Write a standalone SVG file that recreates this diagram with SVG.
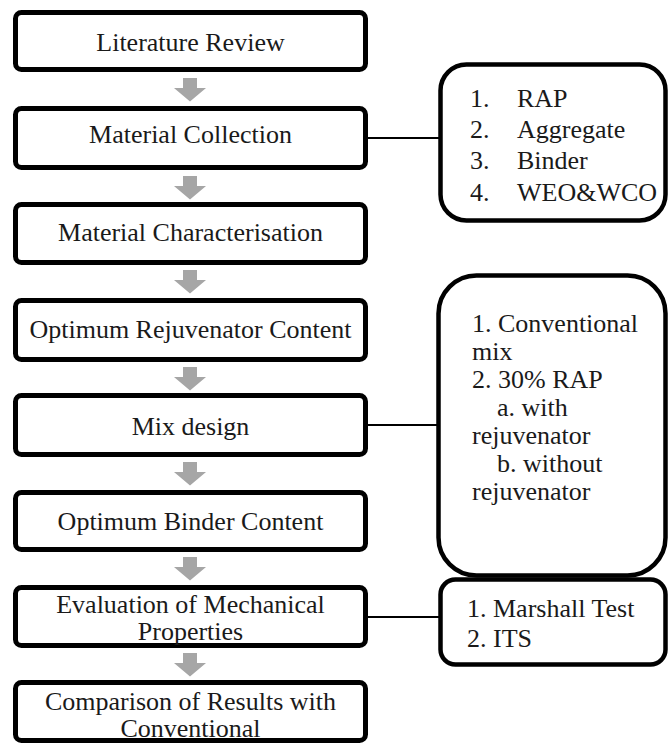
<svg xmlns="http://www.w3.org/2000/svg" width="670" height="744" viewBox="0 0 670 744">
<style>
.box{fill:#fff;stroke:#000;stroke-width:5}
.rbox{fill:#fff;stroke:#000;stroke-width:4.5}
.t{font-family:"Liberation Serif",serif;font-size:26px;fill:#1a1a1a}
.c{text-anchor:middle}
.arr{fill:#a6a6a6}
.ln{stroke:#000;stroke-width:2;fill:none}
</style>
<defs>
<path id="dn" d="M-9,0 H5 V10 H14 L-2,23.5 L-18,10 H-9 Z"/>
</defs>
<rect width="670" height="744" fill="#fff"/>
<g id="connectors">
<line class="ln" x1="366" y1="138" x2="440" y2="138"/>
<line class="ln" x1="366" y1="425" x2="438" y2="425"/>
<line class="ln" x1="366" y1="617" x2="440" y2="617"/>
<g class="arr">
<use href="#dn" x="192" y="78"/>
<use href="#dn" x="192" y="176"/>
<use href="#dn" x="192" y="270"/>
<use href="#dn" x="192" y="367"/>
<use href="#dn" x="192" y="462"/>
<use href="#dn" x="192" y="557"/>
<use href="#dn" x="192" y="653"/>
</g>
</g>
<g id="n1"><rect class="box" x="15.5" y="12.5" width="350" height="57" rx="6"/><text class="t c" x="190.5" y="51">Literature Review</text></g>
<g id="n2"><rect class="box" x="15.5" y="108.5" width="350" height="59" rx="6"/><text class="t c" x="190.5" y="143">Material Collection</text></g>
<g id="n3"><rect class="box" x="15.5" y="204.5" width="350" height="58" rx="6"/><text class="t c" x="190.5" y="241">Material Characterisation</text></g>
<g id="n4"><rect class="box" x="15.5" y="300.5" width="350" height="59" rx="6"/><text class="t c" x="190.5" y="338">Optimum Rejuvenator Content</text></g>
<g id="n5"><rect class="box" x="15.5" y="395.5" width="350" height="59" rx="6"/><text class="t c" x="190.5" y="435">Mix design</text></g>
<g id="n6"><rect class="box" x="15.5" y="492.5" width="350" height="57" rx="6"/><text class="t c" x="190.5" y="530">Optimum Binder Content</text></g>
<g id="n7"><rect class="box" x="15.5" y="587.5" width="350" height="58" rx="6"/><text class="t c" x="190.5" y="613">Evaluation of Mechanical</text><text class="t c" x="190.5" y="640">Properties</text></g>
<g id="n8"><rect class="box" x="15.5" y="682.5" width="350" height="58" rx="6"/><text class="t c" x="190.5" y="710">Comparison of Results with</text><text class="t c" x="190.5" y="737">Conventional</text></g>
<g id="r1"><rect class="rbox" x="440.5" y="64.5" width="225" height="156" rx="26"/>
<text class="t" x="470" y="107">1.</text><text class="t" x="517" y="107">RAP</text>
<text class="t" x="470" y="138">2.</text><text class="t" x="517" y="138">Aggregate</text>
<text class="t" x="470" y="169">3.</text><text class="t" x="517" y="169">Binder</text>
<text class="t" x="470" y="201">4.</text><text class="t" x="517" y="201">WEO&amp;WCO</text></g>
<g id="r2"><rect class="rbox" x="438.5" y="275.5" width="227" height="300" rx="38"/>
<text class="t" x="472" y="332">1. Conventional</text>
<text class="t" x="472" y="360">mix</text>
<text class="t" x="472" y="388">2. 30% RAP</text>
<text class="t" x="497" y="416">a. with</text>
<text class="t" x="472" y="444">rejuvenator</text>
<text class="t" x="497" y="472">b. without</text>
<text class="t" x="472" y="500">rejuvenator</text></g>
<g id="r3"><rect class="rbox" x="440.5" y="579.5" width="225" height="85" rx="15"/>
<text class="t" x="467" y="617">1. Marshall Test</text>
<text class="t" x="467" y="647">2. ITS</text></g>
</svg>
